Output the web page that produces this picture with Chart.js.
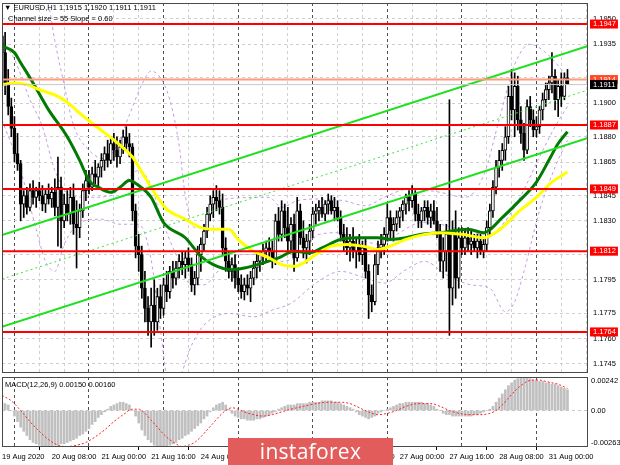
<!DOCTYPE html>
<html>
<head>
<meta charset="utf-8">
<script src="https://cdn.jsdelivr.net/npm/chart.js@4.4.0/dist/chart.umd.min.js"></script>
<style>
  html, body { margin: 0; padding: 0; background: #fff; }
  #wrap { position: relative; width: 620px; height: 465px; overflow: hidden; font-family: 'Liberation Sans', Arial, sans-serif; }
  #priceCanvas { position: absolute; left: 0; top: 0; }
  #macdCanvas { position: absolute; left: 0; top: 370px; }
  .lbl { position: absolute; font-size: 7.5px; line-height: 10px; color: #000; white-space: pre; }
  #logo { position: absolute; left: 228px; top: 438px; width: 165px; height: 27px; background: #e25c5c;
          color: #fff; font-family: 'Open Sans', sans-serif; font-size: 21px; line-height: 27px; text-align: center; letter-spacing: 0.3px; }
</style>
</head>
<body>
<div id="wrap">
  <canvas id="priceCanvas" width="620" height="375"></canvas>
  <canvas id="macdCanvas" width="620" height="95"></canvas>
  <div class="lbl" style="left:4px;top:3px">▼ EURUSD,H1 1.1915 1.1920 1.1911 1.1911</div>
  <div class="lbl" style="left:8px;top:14px">Channel size = 55 Slope = 0.60</div>
  <div class="lbl" style="left:5px;top:380px">MACD(12,26,9) 0.00150 0.00160</div>
  <div id="logo">instaforex</div>
</div>
<script>
// ==========================================
// 1. DATA (EURUSD H1, 19 Aug 16:00 .. 31 Aug 06:00)
// ==========================================
const candleOpen = [
  1.1940,1.1930,1.1912,1.1898,1.1885,1.1870,1.1864,1.1840,1.1845,1.1838,
  1.1848,1.1844,1.1848,1.1845,1.1840,1.1846,1.1843,1.1847,1.1838,1.1850,
  1.1830,1.1840,1.1834,1.1844,1.1828,1.1826,1.1836,1.1848,1.1854,1.1850,
  1.1858,1.1856,1.1862,1.1866,1.1870,1.1866,1.1876,1.1872,1.1868,1.1874,
  1.1880,1.1876,1.1874,1.1836,1.1815,1.1810,1.1790,1.1778,1.1770,1.1780,
  1.1770,1.1785,1.1778,1.1792,1.1788,1.1800,1.1796,1.1802,1.1806,1.1804,
  1.1808,1.1804,1.1792,1.1796,1.1810,1.1816,1.1824,1.1834,1.1840,1.1844,
  1.1842,1.1838,1.1814,1.1806,1.1800,1.1804,1.1796,1.1792,1.1788,1.1792,
  1.1790,1.1796,1.1802,1.1806,1.1810,1.1812,1.1814,1.1812,1.1806,1.1830,
  1.1822,1.1836,1.1826,1.1818,1.1828,1.1808,1.1836,1.1820,1.1814,1.1818,
  1.1824,1.1834,1.1836,1.1838,1.1834,1.1840,1.1842,1.1836,1.1838,1.1832,
  1.1822,1.1818,1.1814,1.1818,1.1812,1.1816,1.1810,1.1814,1.1800,1.1786,
  1.1782,1.1804,1.1814,1.1816,1.1822,1.1832,1.1824,1.1828,1.1832,1.1836,
  1.1840,1.1844,1.1842,1.1846,1.1834,1.1830,1.1836,1.1838,1.1832,1.1836,
  1.1830,1.1824,1.1806,1.1812,1.1822,1.1790,1.1822,1.1796,1.1820,1.1814,
  1.1820,1.1816,1.1818,1.1814,1.1818,1.1812,1.1816,1.1826,1.1836,1.1850,
  1.1862,1.1866,1.1872,1.1880,1.1904,1.1896,1.1910,1.1890,1.1882,1.1872,
  1.1898,1.1890,1.1884,1.1886,1.1896,1.1902,1.1908,1.1912,1.1916,1.1902,
  1.1910,1.1904,1.1915
];
const candleHigh = [
  1.1950,1.1942,1.1920,1.1903,1.1892,1.1882,1.1866,1.1848,1.1850,1.1852,
  1.1854,1.1850,1.1853,1.1851,1.1849,1.1852,1.1850,1.1855,1.1868,1.1856,
  1.1846,1.1848,1.1850,1.1852,1.1842,1.1840,1.1852,1.1860,1.1860,1.1862,
  1.1866,1.1864,1.1870,1.1874,1.1878,1.1880,1.1882,1.1880,1.1878,1.1884,
  1.1886,1.1882,1.1876,1.1840,1.1822,1.1815,1.1800,1.1785,1.1790,1.1795,
  1.1790,1.1792,1.1796,1.1800,1.1803,1.1806,1.1806,1.1810,1.1812,1.1812,
  1.1814,1.1808,1.1800,1.1815,1.1820,1.1828,1.1838,1.1845,1.1848,1.1851,
  1.1848,1.1846,1.1820,1.1812,1.1808,1.1810,1.1802,1.1798,1.1796,1.1798,
  1.1800,1.1806,1.1810,1.1812,1.1816,1.1818,1.1820,1.1818,1.1834,1.1838,
  1.1842,1.1840,1.1838,1.1832,1.1834,1.1844,1.1840,1.1830,1.1822,1.1828,
  1.1838,1.1840,1.1842,1.1844,1.1842,1.1846,1.1845,1.1844,1.1842,1.1836,
  1.1828,1.1826,1.1822,1.1826,1.1820,1.1822,1.1818,1.1820,1.1804,1.1792,
  1.1810,1.1818,1.1822,1.1826,1.1840,1.1836,1.1832,1.1836,1.1838,1.1842,
  1.1846,1.1848,1.1851,1.1848,1.1840,1.1838,1.1842,1.1842,1.1840,1.1842,
  1.1838,1.1828,1.1820,1.1828,1.1902,1.1830,1.1836,1.1826,1.1826,1.1824,
  1.1826,1.1824,1.1822,1.1822,1.1822,1.1820,1.1830,1.1840,1.1854,1.1866,
  1.1872,1.1876,1.1886,1.1910,1.1920,1.1918,1.1916,1.1898,1.1888,1.1902,
  1.1904,1.1896,1.1892,1.1898,1.1906,1.1912,1.1916,1.1930,1.1920,1.1914,
  1.1918,1.1918,1.1920
];
const candleLow = [
  1.1925,1.1905,1.1893,1.1880,1.1865,1.1860,1.1830,1.1832,1.1834,1.1836,
  1.1840,1.1838,1.1842,1.1836,1.1835,1.1840,1.1838,1.1833,1.1815,1.1814,
  1.1826,1.1830,1.1828,1.1822,1.1802,1.1820,1.1832,1.1842,1.1846,1.1848,
  1.1852,1.1850,1.1856,1.1860,1.1862,1.1864,1.1866,1.1862,1.1864,1.1870,
  1.1872,1.1868,1.1830,1.1808,1.1800,1.1784,1.1770,1.1762,1.1755,1.1762,
  1.1765,1.1772,1.1774,1.1782,1.1784,1.1790,1.1792,1.1796,1.1798,1.1796,
  1.1800,1.1788,1.1786,1.1792,1.1800,1.1812,1.1820,1.1830,1.1832,1.1836,
  1.1834,1.1810,1.1800,1.1796,1.1794,1.1790,1.1788,1.1784,1.1783,1.1786,
  1.1782,1.1792,1.1796,1.1800,1.1804,1.1806,1.1808,1.1802,1.1804,1.1818,
  1.1818,1.1820,1.1812,1.1812,1.1800,1.1806,1.1816,1.1808,1.1805,1.1810,
  1.1820,1.1828,1.1830,1.1832,1.1830,1.1834,1.1834,1.1830,1.1830,1.1818,
  1.1812,1.1810,1.1806,1.1808,1.1802,1.1806,1.1804,1.1796,1.1772,1.1776,
  1.1780,1.1798,1.1808,1.1810,1.1818,1.1820,1.1818,1.1824,1.1826,1.1830,
  1.1834,1.1836,1.1838,1.1830,1.1826,1.1826,1.1830,1.1828,1.1826,1.1828,
  1.1820,1.1800,1.1796,1.1800,1.1762,1.1780,1.1784,1.1790,1.1810,1.1810,
  1.1812,1.1810,1.1812,1.1808,1.1810,1.1808,1.1812,1.1822,1.1832,1.1846,
  1.1856,1.1860,1.1866,1.1876,1.1890,1.1880,1.1884,1.1876,1.1866,1.1870,
  1.1886,1.1880,1.1880,1.1882,1.1890,1.1898,1.1902,1.1906,1.1896,1.1892,
  1.1898,1.1902,1.1911
];
const candleClose = [
  1.1930,1.1912,1.1898,1.1885,1.1870,1.1864,1.1840,1.1845,1.1838,1.1848,
  1.1844,1.1848,1.1845,1.1840,1.1846,1.1843,1.1847,1.1838,1.1850,1.1830,
  1.1840,1.1834,1.1844,1.1828,1.1826,1.1836,1.1848,1.1854,1.1850,1.1858,
  1.1856,1.1862,1.1866,1.1870,1.1866,1.1876,1.1872,1.1868,1.1874,1.1880,
  1.1876,1.1874,1.1836,1.1815,1.1810,1.1790,1.1778,1.1770,1.1780,1.1770,
  1.1785,1.1778,1.1792,1.1788,1.1800,1.1796,1.1802,1.1806,1.1804,1.1808,
  1.1804,1.1792,1.1796,1.1810,1.1816,1.1824,1.1834,1.1840,1.1844,1.1842,
  1.1838,1.1814,1.1806,1.1800,1.1804,1.1796,1.1792,1.1788,1.1792,1.1790,
  1.1796,1.1802,1.1806,1.1810,1.1812,1.1814,1.1812,1.1806,1.1830,1.1822,
  1.1836,1.1826,1.1818,1.1828,1.1808,1.1836,1.1820,1.1814,1.1818,1.1824,
  1.1834,1.1836,1.1838,1.1834,1.1840,1.1842,1.1836,1.1838,1.1832,1.1822,
  1.1818,1.1814,1.1818,1.1812,1.1816,1.1810,1.1814,1.1800,1.1786,1.1782,
  1.1804,1.1814,1.1816,1.1822,1.1832,1.1824,1.1828,1.1832,1.1836,1.1840,
  1.1844,1.1842,1.1846,1.1834,1.1830,1.1836,1.1838,1.1832,1.1836,1.1830,
  1.1824,1.1806,1.1812,1.1822,1.1790,1.1822,1.1796,1.1820,1.1814,1.1820,
  1.1816,1.1818,1.1814,1.1818,1.1812,1.1816,1.1826,1.1836,1.1850,1.1862,
  1.1866,1.1872,1.1880,1.1904,1.1896,1.1910,1.1890,1.1882,1.1872,1.1898,
  1.1890,1.1884,1.1886,1.1896,1.1902,1.1908,1.1912,1.1916,1.1902,1.1910,
  1.1904,1.1915,1.1911
];

// moving averages, read at knots (bar index, price)
const maGreenIdx = [0,4,6,10,15,21,25,28,31,35,38,41,44,48,52,59,64,68,74,78,84,89,94,99,103,109,114,121,125,130,135,141,150,155,161,166,172,176,179,182];
const maGreenVal = [1.1934,1.1930,1.1924,1.1912,1.1896,1.1880,1.1866,1.1854,1.1850,1.1847,1.1850,1.1854,1.1851,1.1844,1.1829,1.1820,1.1809,1.1804,1.1801,1.1802,1.1805,1.1808,1.1812,1.1811,1.1814,1.1819,1.1820,1.1820,1.1819,1.1820,1.1822,1.1823,1.1825,1.1823,1.1832,1.1841,1.1853,1.1866,1.1876,1.1883];
const maYellowIdx = [0,4,8,12,18,22,25,29,34,38,42,45,49,53,59,64,69,73,76,80,86,90,94,97,101,106,111,116,121,125,130,136,141,148,155,161,166,172,177,182];
const maYellowVal = [1.1911,1.1912,1.1911,1.1908,1.1904,1.1899,1.1894,1.1888,1.1881,1.1875,1.1868,1.1859,1.1847,1.1837,1.1831,1.1826,1.1825,1.1825,1.1819,1.1813,1.1808,1.1804,1.1803,1.1805,1.1810,1.1815,1.1816,1.1815,1.1813,1.1815,1.1819,1.1822,1.1823,1.1822,1.1820,1.1826,1.1835,1.1844,1.1853,1.1859];

// bollinger bands (dashed purple), read at knots
const bandUpIdx = [0,9,15,17,20,23,28,33,37,41,45,48,51,54,57,59,62,65,68,72,86,90,95,102,110,117,123,131,141,149,155,160,165,170,175,180,182];
const bandUpVal = [1.1996,1.1973,1.1958,1.1937,1.1911,1.1887,1.1872,1.1867,1.1875,1.1893,1.1911,1.1919,1.1915,1.1902,1.1875,1.1845,1.1826,1.1827,1.1839,1.1843,1.1844,1.1838,1.1842,1.1843,1.1842,1.1839,1.1844,1.1849,1.1847,1.1844,1.1857,1.1890,1.1923,1.1935,1.1930,1.1920,1.1915];
const bandMidIdx = [0,4,9,13,17,22,28,35,40,44,48,51,56,61,65,70,77,83,90,96,102,109,115,122,128,135,141,151,157,162,167,173,178,182];
const bandMidVal = [1.1937,1.1926,1.1902,1.1886,1.1860,1.1845,1.1844,1.1845,1.1854,1.1860,1.1851,1.1833,1.1810,1.1792,1.1792,1.1801,1.1810,1.1810,1.1806,1.1810,1.1822,1.1823,1.1819,1.1816,1.1823,1.1829,1.1828,1.1823,1.1822,1.1830,1.1845,1.1868,1.1886,1.1898];
const bandLowIdx = [0,6,11,14,17,20,25,32,38,44,48,51,54,57,61,65,73,81,87,93,101,109,117,123,130,136,143,151,157,162,165,168,173,178,182];
const bandLowVal = [1.1890,1.1860,1.1825,1.1806,1.1800,1.1816,1.1829,1.1831,1.1828,1.1828,1.1807,1.1765,1.1730,1.1736,1.1756,1.1768,1.1775,1.1773,1.1777,1.1781,1.1793,1.1800,1.1796,1.1793,1.1801,1.1806,1.1798,1.1792,1.1790,1.1776,1.1782,1.1800,1.1836,1.1862,1.1878];

// regression channel (start / end of visible window)
const channelIdx = [0, 188.6];
const channelUpper = [1.18216, 1.19339];
const channelMiddle = [1.17955, 1.19078];
const channelLower = [1.17670, 1.18793];

// horizontal levels
const levelValues = [1.1947, 1.1887, 1.1849, 1.1812, 1.1764];
const dayHighValue = 1.1914;
const bidValue = 1.1911;

// price axis
const priceTicks = [1.1950,1.1935,1.1915,1.1900,1.1880,1.1865,1.1845,1.1830,1.1810,1.1795,1.1775,1.1760,1.1745];
const priceTickLabels = ['1.1950','1.1935','','1.1900','1.1880','1.1865','1.1845','1.1830','','1.1795','1.1775','1.1760','1.1745'];
const priceMin = 1.17396, priceMax = 1.19595;

// MACD histogram, one bar per candle
const macdMain = [
   0.0006, 0.0005, 0.0004, 0.0000,-0.0004,-0.0008,-0.0012,-0.0015,-0.0018,-0.0021,
  -0.0023,-0.0024,-0.0025,-0.0026,-0.0026,-0.0026,-0.0026,-0.0025,-0.0025,-0.0024,
  -0.0024,-0.0023,-0.0022,-0.0021,-0.0020,-0.0018,-0.0017,-0.0015,-0.0013,-0.0010,
  -0.0008,-0.0005,-0.0003,-0.0001, 0.0001, 0.0003, 0.0004, 0.0005, 0.0006, 0.0006,
   0.0005, 0.0004, 0.0000,-0.0004,-0.0009,-0.0014,-0.0018,-0.0021,-0.0023,-0.0025,
  -0.0026,-0.00263,-0.0026,-0.0026,-0.0025,-0.0024,-0.0023,-0.0021,-0.0020,-0.0018,
  -0.0017,-0.0015,-0.0013,-0.0011,-0.0009,-0.0006,-0.0004,-0.0001, 0.0002, 0.0004,
   0.0005, 0.0006, 0.0004, 0.0001,-0.0002,-0.0004,-0.0005,-0.0006,-0.0006,-0.0007,
  -0.0007,-0.0007,-0.0006,-0.0006,-0.0005,-0.0004,-0.0003,-0.0002,-0.0001, 0.0001,
   0.0002, 0.0003, 0.0004, 0.0004, 0.0004, 0.0005, 0.0005, 0.0005, 0.0005, 0.0006,
   0.0006, 0.0006, 0.0006, 0.0007, 0.0007, 0.0007, 0.0007, 0.0006, 0.0006, 0.0005,
   0.0004, 0.0003, 0.0002, 0.0001,-0.0001,-0.0003,-0.0004,-0.0005,-0.0006,-0.0005,
  -0.0004,-0.0002,-0.0001, 0.0000, 0.0001, 0.0002, 0.0003, 0.0004, 0.0005, 0.0005,
   0.0006, 0.0006, 0.0006, 0.0006, 0.0006, 0.0006, 0.0005, 0.0005, 0.0004, 0.0003,
   0.0001, 0.0000,-0.0002,-0.0003,-0.0003,-0.0004,-0.0004,-0.0004,-0.0004,-0.0004,
  -0.0004,-0.0004,-0.0003,-0.0003,-0.0002,-0.0001, 0.0000, 0.0001, 0.0003, 0.0006,
   0.0009, 0.0012, 0.0015, 0.0018, 0.0020, 0.0022, 0.0023, 0.0024, 0.00242,0.0024,
   0.0023, 0.0022, 0.0022, 0.0021, 0.0021, 0.0020, 0.0020, 0.0019, 0.0019, 0.0018,
   0.0017, 0.0016, 0.0015
];
const signalIdx = [0,3,6,9,12,15,18,21,24,27,30,33,36,39,42,44,46,48,50,52,54,56,58,60,62,64,66,68,70,72,74,76,78,81,84,87,90,93,97,101,105,109,112,115,118,121,124,127,130,134,138,141,144,147,150,154,157,159,161,163,165,167,169,171,173,175,177,179,181,182];
const signalVal = [0.0011,0.0007,0.0000,-0.0008,-0.0015,-0.0021,-0.0025,-0.0026,-0.0025,-0.0023,-0.0019,-0.0014,-0.0008,-0.0003,0.0001,0.0001,-0.0002,-0.0007,-0.0012,-0.0017,-0.0021,-0.0024,-0.0026,-0.0025,-0.0023,-0.0019,-0.0014,-0.0009,-0.0004,0.0000,0.0002,0.0001,-0.0001,-0.0003,-0.0004,-0.0003,-0.0001,0.0001,0.0003,0.0005,0.0006,0.0006,0.0005,0.0002,-0.0001,-0.0003,-0.0002,0.0000,0.0003,0.0005,0.0005,0.0003,0.0000,-0.0002,-0.0003,-0.0003,-0.0002,0.0000,0.0004,0.0009,0.0014,0.0018,0.0021,0.0022,0.0022,0.0021,0.0020,0.0019,0.0017,0.0016];
const macdTicks = [0.00213, 0, -0.00234];
const macdTickLabels = ['0.00242', '0.00', '-0.00263'];
const macdMin = -0.00263, macdMax = 0.00242;

// time axis
const timeLabelIdx = [0,16,32,48,64,80,96,112,128,144,160,176];
const timeLabels = ['19 Aug 2020','20 Aug 08:00','21 Aug 00:00','21 Aug 16:00','24 Aug 08:00','25 Aug 00:00',
                    '25 Aug 16:00','26 Aug 08:00','27 Aug 00:00','27 Aug 16:00','28 Aug 08:00','31 Aug 00:00'];
const daySepIdx = [8,32,56,80,104,128,152,176];
const xMin = 0, xMax = 188.6;

// ==========================================
// 2. HELPERS
// ==========================================
const pts = (idx, vals) => idx.map((x, k) => ({ x: x, y: vals[k] }));
const flat = v => [{ x: xMin, y: v }, { x: xMax, y: v }];
const gridIdx = [];
for (let i = 0; i <= 184; i += 8) gridIdx.push(i);
const axisFont = { family: "'Liberation Sans', Arial, sans-serif", size: 7.5 };
const noPad = s => { s.paddingTop = 0; s.paddingBottom = 0; s.paddingLeft = 0; s.paddingRight = 0; };
const tv = c => (c && c.tick) ? c.tick.value : NaN;   // tick value of a scriptable context

const panelFrame = {
  id: 'panelFrame',
  afterDraw(chart) {
    const { ctx, chartArea: a } = chart;
    ctx.save();
    ctx.strokeStyle = '#4a4a4a';
    ctx.lineWidth = 1;
    ctx.strokeRect(a.left + 0.5, a.top + 0.5, a.right - a.left - 1, a.bottom - a.top - 1);
    ctx.restore();
  }
};

const candleIdx = candleClose.map((c, i) => i);

// ==========================================
// 3. PRICE PANEL
// ==========================================
const priceDatasets = [
  // levels on top
  ...levelValues.map(v => ({ type: 'line', data: flat(v), borderColor: '#ff0000', borderWidth: 2, pointRadius: 0, order: 1 })),
  { type: 'line', data: flat(dayHighValue), borderColor: '#ff9a7a', borderWidth: 2, pointRadius: 0, order: 1 },
  { type: 'line', data: flat(bidValue), borderColor: '#c8c8c8', borderWidth: 1, pointRadius: 0, order: 1 },
  // channel
  { type: 'line', data: pts(channelIdx, channelUpper), borderColor: '#1ee01e', borderWidth: 2, pointRadius: 0, order: 2 },
  { type: 'line', data: pts(channelIdx, channelMiddle), borderColor: '#3ee03e', borderWidth: 1, borderDash: [2, 3], pointRadius: 0, order: 2 },
  { type: 'line', data: pts(channelIdx, channelLower), borderColor: '#1ee01e', borderWidth: 2, pointRadius: 0, order: 2 },
  // moving averages
  { type: 'line', data: pts(maYellowIdx, maYellowVal), borderColor: '#ffff00', borderWidth: 3, pointRadius: 0, cubicInterpolationMode: 'monotone', order: 3 },
  { type: 'line', data: pts(maGreenIdx, maGreenVal), borderColor: '#007a00', borderWidth: 3, pointRadius: 0, cubicInterpolationMode: 'monotone', order: 3 },
  // candles
  { type: 'bar', data: candleIdx.map(i => ({ x: i, y: [candleOpen[i], candleClose[i]] })),
    backgroundColor: candleIdx.map(i => candleClose[i] >= candleOpen[i] ? '#ffffff' : '#000000'),
    borderColor: '#000000', borderWidth: 1, borderSkipped: false, barThickness: 3, grouped: false, order: 4 },
  { type: 'bar', data: candleIdx.map(i => ({ x: i, y: [candleLow[i], candleHigh[i]] })),
    backgroundColor: '#000000', barThickness: 1, grouped: false, order: 5 },
  // bands
  { type: 'line', data: pts(bandUpIdx, bandUpVal), borderColor: '#c69be0', borderWidth: 1, borderDash: [3, 3], pointRadius: 0, cubicInterpolationMode: 'monotone', order: 6 },
  { type: 'line', data: pts(bandMidIdx, bandMidVal), borderColor: '#c69be0', borderWidth: 1, borderDash: [3, 3], pointRadius: 0, cubicInterpolationMode: 'monotone', order: 6 },
  { type: 'line', data: pts(bandLowIdx, bandLowVal), borderColor: '#c69be0', borderWidth: 1, borderDash: [3, 3], pointRadius: 0, cubicInterpolationMode: 'monotone', order: 6 }
];

const allPriceTicks = priceTicks.concat(levelValues, [dayHighValue, bidValue]);
const isLevel = v => levelValues.includes(v) || v === dayHighValue || v === bidValue;
const levelBox = v => v === bidValue ? '#000000' : (v === dayHighValue ? '#ff4a28' : (levelValues.includes(v) ? '#ff0000' : 'rgba(0,0,0,0)'));

new Chart(document.getElementById('priceCanvas'), {
  type: 'line',
  data: { datasets: priceDatasets },
  options: {
    responsive: false, animation: false, events: [],
    layout: { padding: { left: 2, top: 3, right: 0, bottom: 2 } },
    plugins: { legend: { display: false }, tooltip: { enabled: false } },
    scales: {
      x: {
        type: 'linear', min: xMin, max: xMax, offset: false,
        afterBuildTicks: s => { s.ticks = gridIdx.map(v => ({ value: v })); },
        afterFit: s => { s.height = 0; noPad(s); },
        ticks: { display: false },
        grid: { drawTicks: false, color: c => daySepIdx.includes(tv(c)) ? '#505050' : '#cfcfcf', lineWidth: 1 },
        border: { display: false, dash: [3, 3] }
      },
      y: {
        position: 'right', min: priceMin, max: priceMax,
        afterBuildTicks: s => { s.ticks = allPriceTicks.map(v => ({ value: v })); },
        afterFit: s => { s.width = 32; noPad(s); },
        ticks: {
          autoSkip: false, padding: 5, font: axisFont,
          callback: (v, i) => i < priceTicks.length ? priceTickLabels[i] : v.toFixed(4),
          color: c => isLevel(tv(c)) ? '#ffffff' : '#000000',
          showLabelBackdrop: true,
          backdropColor: c => levelBox(tv(c)),
          backdropPadding: { left: 3, right: 2, top: 0, bottom: 0 }
        },
        grid: { drawTicks: false, color: c => isLevel(tv(c)) ? 'rgba(0,0,0,0)' : '#cfcfcf' },
        border: { display: false, dash: [3, 3] }
      }
    }
  },
  plugins: [panelFrame]
});

// ==========================================
// 4. MACD PANEL
// ==========================================
new Chart(document.getElementById('macdCanvas'), {
  type: 'line',
  data: {
    datasets: [
      { type: 'line', data: pts(signalIdx, signalVal), borderColor: '#ff2020', borderWidth: 1, borderDash: [2, 2], pointRadius: 0, cubicInterpolationMode: 'monotone', order: 1 },
      { type: 'bar', data: candleIdx.map(i => ({ x: i, y: macdMain[i] })), backgroundColor: '#c0c0c0', barThickness: 2, grouped: false, order: 2 }
    ]
  },
  options: {
    responsive: false, animation: false, events: [],
    layout: { padding: { left: 2, top: 7, right: 0, bottom: 0 } },
    plugins: { legend: { display: false }, tooltip: { enabled: false } },
    scales: {
      x: {
        type: 'linear', min: xMin, max: xMax, offset: false,
        afterBuildTicks: s => { s.ticks = gridIdx.map(v => ({ value: v })); },
        afterFit: s => { s.height = 18; noPad(s); },
        ticks: {
          autoSkip: false, maxRotation: 0, minRotation: 0, align: 'start', padding: 2, font: axisFont, color: '#000',
          callback: v => { const k = timeLabelIdx.indexOf(v); return k >= 0 ? timeLabels[k] : ''; }
        },
        grid: {
          drawTicks: true, tickLength: 3,
          color: c => daySepIdx.includes(tv(c)) ? '#505050' : 'rgba(0,0,0,0)',
          tickColor: c => timeLabelIdx.includes(tv(c)) ? '#000' : 'rgba(0,0,0,0)'
        },
        border: { display: false, dash: [3, 3] }
      },
      y: {
        position: 'right', min: macdMin, max: macdMax,
        afterBuildTicks: s => { s.ticks = macdTicks.map(v => ({ value: v })); },
        afterFit: s => { s.width = 32; noPad(s); },
        ticks: { autoSkip: false, padding: 3, font: axisFont, color: '#000', callback: (v, i) => macdTickLabels[i] },
        grid: { drawTicks: false, color: c => tv(c) === 0 ? '#c8c8c8' : 'rgba(0,0,0,0)' },
        border: { display: false, dash: [3, 3] }
      }
    }
  },
  plugins: [panelFrame]
});
</script>
</body>
</html>
